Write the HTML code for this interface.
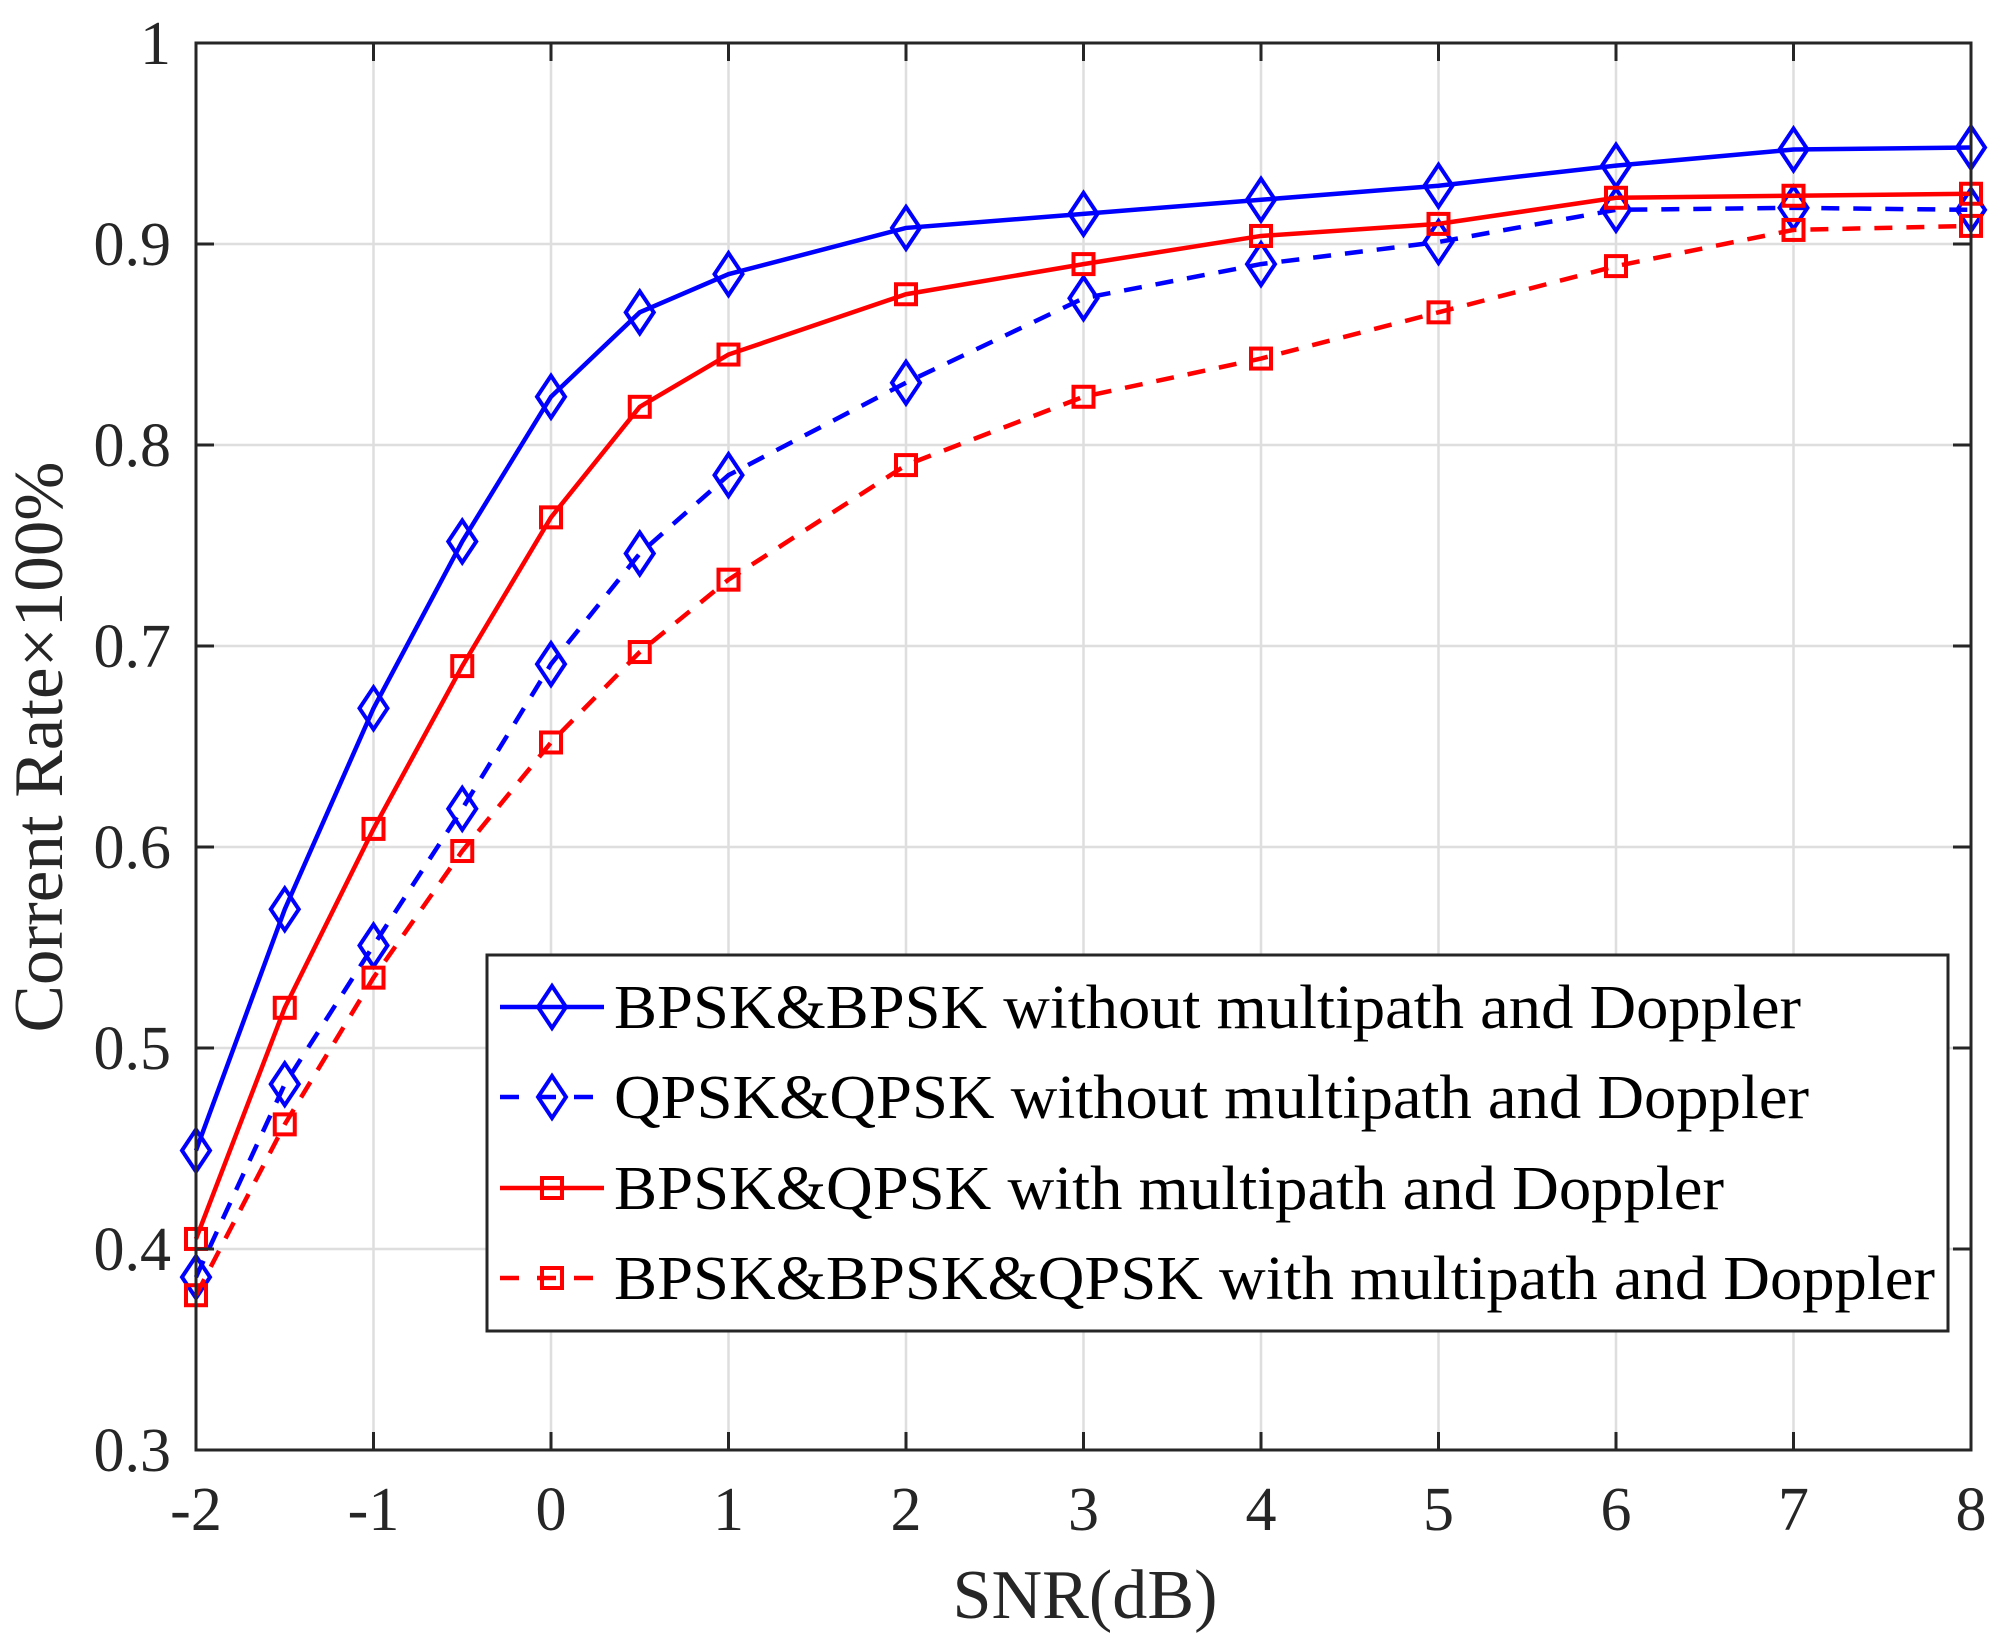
<!DOCTYPE html>
<html><head><meta charset="utf-8"><style>
html,body{margin:0;padding:0;background:#fff;width:2006px;height:1647px;overflow:hidden}
svg text{font-family:"Liberation Serif","Times New Roman",serif;fill:#262626}
</style></head><body>
<svg id="chart" width="2006" height="1647" viewBox="0 0 2006 1647" xmlns="http://www.w3.org/2000/svg">
<rect width="2006" height="1647" fill="#fff"/>
<g id="grid"></g>
<g id="series"></g>
<g id="axes"></g>
<g id="legend"></g>
<text x="1085" y="1618" font-size="70" text-anchor="middle" textLength="265" lengthAdjust="spacingAndGlyphs">SNR(dB)</text>
<text transform="translate(62,747) rotate(-90)" font-size="70" text-anchor="middle" textLength="571" lengthAdjust="spacingAndGlyphs">Corrent Rate×100%</text>
</svg>
<script>
const snr = [-2,-1.5,-1,-0.5,0,0.5,1,2,3,4,5,6,7,8];
const bpskBpsk = [0.449,0.569,0.669,0.752,0.824,0.866,0.885,0.908,0.915,0.922,0.929,0.939,0.947,0.948];
const qpskQpsk = [0.386,0.482,0.551,0.619,0.691,0.746,0.785,0.831,0.873,0.890,0.901,0.917,0.918,0.917];
const bpskQpsk = [0.405,0.520,0.609,0.690,0.764,0.819,0.845,0.875,0.890,0.904,0.910,0.923,0.924,0.925];
const bpskBpskQpsk = [0.377,0.462,0.535,0.598,0.652,0.697,0.733,0.790,0.824,0.843,0.866,0.889,0.907,0.909];
const xTicks = [-2,-1,0,1,2,3,4,5,6,7,8];
const yTicks = [0.3,0.4,0.5,0.6,0.7,0.8,0.9,1];
const yTickLabels = ["0.3","0.4","0.5","0.6","0.7","0.8","0.9","1"];
const seriesNames = ["BPSK&BPSK without multipath and Doppler","QPSK&QPSK without multipath and Doppler","BPSK&QPSK with multipath and Doppler","BPSK&BPSK&QPSK with multipath and Doppler"];

const L=196,R=1971,T=43,B=1450;
const xs=v=>L+(v+2)/10*(R-L);
const ys=v=>B-(v-0.3)/0.7*(B-T);
const NS="http://www.w3.org/2000/svg";
function mk(tag,attrs,parent){const e=document.createElementNS(NS,tag);for(const k in attrs)e.setAttribute(k,attrs[k]);parent.appendChild(e);return e;}
const grid=document.getElementById('grid'),axes=document.getElementById('axes'),ser=document.getElementById('series'),leg=document.getElementById('legend');

xTicks.forEach(t=>{
  const x=xs(t);
  const g=mk('line',{x1:x,x2:x,y1:T,y2:B,stroke:'#dedede','stroke-width':2.5},grid);
  
  
  mk('line',{x1:x,x2:x,y1:B,y2:B-18,stroke:'#262626','stroke-width':3},axes);
  mk('line',{x1:x,x2:x,y1:T,y2:T+18,stroke:'#262626','stroke-width':3},axes);
  const tx=mk('text',{x:x,y:1530,'font-size':62,'text-anchor':'middle'},axes);
  tx.textContent=String(t);
  
  
});
yTicks.forEach((t,i)=>{
  const y=ys(t);
  const g=mk('line',{x1:L,x2:R,y1:y,y2:y,stroke:'#dedede','stroke-width':2.5},grid);
  
  
  mk('line',{x1:L,x2:L+18,y1:y,y2:y,stroke:'#262626','stroke-width':3},axes);
  mk('line',{x1:R,x2:R-18,y1:y,y2:y,stroke:'#262626','stroke-width':3},axes);
  const tx=mk('text',{x:171,y:y+21,'font-size':62,'text-anchor':'end'},axes);
  tx.textContent=yTickLabels[i];
  
  
});
const box=mk('rect',{x:L,y:T,width:R-L,height:B-T,fill:'none',stroke:'#262626','stroke-width':3},axes);



function marker(type,x,y,color,parent){
  if(type==='d') return mk('polygon',{points:`${x},${y-21} ${x+14},${y} ${x},${y+21} ${x-14},${y}`,fill:'none',stroke:color,'stroke-width':4},parent);
  return mk('rect',{x:x-10,y:y-10,width:20,height:20,fill:'none',stroke:color,'stroke-width':4},parent);
}
const defs=[[bpskBpsk,'#0000ff','', 'd','series-bpsk-bpsk'],[qpskQpsk,'#0000ff','18 14','d','series-qpsk-qpsk'],[bpskQpsk,'#ff0000','','s','series-bpsk-qpsk'],[bpskBpskQpsk,'#ff0000','18 14','s','series-bpsk-bpsk-qpsk']];
defs.forEach(([vals,col,dash,m,name])=>{
  const g=mk('g',{},ser);
  
  
  const pts=vals.map((v,i)=>xs(snr[i])+','+ys(v)).join(' ');
  const pl=mk('polyline',{points:pts,fill:'none',stroke:col,'stroke-width':4.5,'stroke-dasharray':dash||'none'},g);
  
  
  vals.forEach((v,i)=>{
    const mm=marker(m,xs(snr[i]),ys(v),col,g);
    
    
  });
});

const lb=mk('rect',{x:487,y:955,width:1461,height:376,fill:'#fff',stroke:'#262626','stroke-width':3},leg);


const rowsY=[1007,1097,1188,1278];
const widths=[1187,1195,1110,1321];
defs.forEach(([vals,col,dash,m,name],i)=>{
  const y=rowsY[i];
  const g=mk('g',{},leg);
  
  
  mk('line',{x1:500,x2:604,y1:y,y2:y,stroke:col,'stroke-width':4.5,'stroke-dasharray':dash?'19 18':'none'},g);
  marker(m,552,y,col,g);
  const t=mk('text',{x:614,y:y+21,'font-size':62,textLength:widths[i],lengthAdjust:'spacingAndGlyphs'},g);
  t.style.fill='#000';
  t.textContent=seriesNames[i];
  
  
});
</script>
</body></html>
